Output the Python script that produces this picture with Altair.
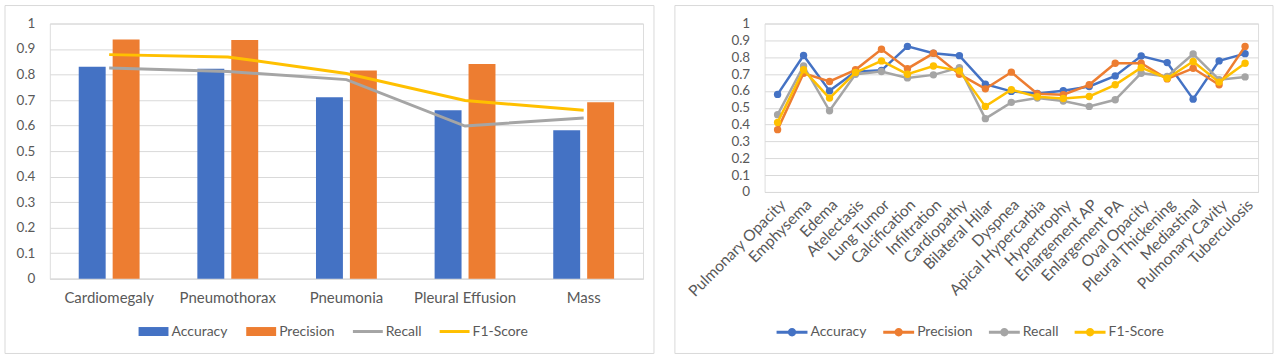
import altair as alt
import pandas as pd

FONT = "Lato"
TXT = "#595959"
GRID = "#D9D9D9"

metrics = ["Accuracy", "Precision", "Recall", "F1-Score"]
colors = ["#4472C4", "#ED7D31", "#A5A5A5", "#FFC000"]
metric_color = dict(zip(metrics, colors))

# ---- left chart data ----
cats_left = ["Cardiomegaly", "Pneumothorax", "Pneumonia", "Pleural Effusion", "Mass"]
acc_left = [0.830, 0.823, 0.711, 0.660, 0.582]
prec_left = [0.937, 0.935, 0.816, 0.841, 0.691]
rec_left = [0.826, 0.812, 0.780, 0.598, 0.630]
f1_left = [0.878, 0.869, 0.804, 0.698, 0.660]

# ---- right chart data ----
cats_right = ["Pulmonary Opacity", "Emphysema", "Edema", "Atelectasis", "Lung Tumor",
              "Calcification", "Infiltration", "Cardiopathy", "Bilateral Hilar", "Dyspnea",
              "Apical Hypercarbia", "Hypertrophy", "Enlargement AP", "Enlargement PA",
              "Oval Opacity", "Pleural Thickening", "Mediastinal", "Pulmonary Cavity",
              "Tuberculosis"]
acc_right = [0.579, 0.810, 0.600, 0.713, 0.722, 0.864, 0.823, 0.809, 0.640, 0.597,
             0.585, 0.601, 0.626, 0.689, 0.807, 0.768, 0.551, 0.778, 0.821]
prec_right = [0.370, 0.705, 0.656, 0.725, 0.847, 0.732, 0.823, 0.699, 0.612, 0.711,
              0.583, 0.577, 0.636, 0.764, 0.764, 0.671, 0.734, 0.636, 0.864]
rec_right = [0.459, 0.748, 0.482, 0.699, 0.715, 0.677, 0.695, 0.738, 0.435, 0.532,
             0.558, 0.540, 0.508, 0.547, 0.705, 0.685, 0.819, 0.666, 0.683]
f1_right = [0.413, 0.725, 0.557, 0.709, 0.778, 0.699, 0.748, 0.719, 0.508, 0.607,
            0.565, 0.555, 0.567, 0.636, 0.738, 0.675, 0.774, 0.652, 0.764]

y_ticks = [0, 0.1, 0.2, 0.3, 0.4, 0.5, 0.6, 0.7, 0.8, 0.9, 1.0]


def long_df(cats, series):
    rows = []
    for m, vals in zip(metrics, series):
        for c, v in zip(cats, vals):
            rows.append({"Disease": c, "Metric": m, "Value": v})
    return pd.DataFrame(rows)


df_left = long_df(cats_left, [acc_left, prec_left, rec_left, f1_left])
df_right = long_df(cats_right, [acc_right, prec_right, rec_right, f1_right])


def frame(x1, x2, y1, y2):
    return alt.Chart(alt.Data(values=[{"f": 1}])).mark_rect(
        fill="white", fillOpacity=0, stroke=GRID, strokeWidth=1
    ).encode(x=alt.value(x1), x2=alt.value(x2), y=alt.value(y1), y2=alt.value(y2))


def legend_layer(df, paths, size, lx, ly, colpad):
    leg = alt.Legend(
        title=None, orient="none", legendX=lx, legendY=ly, direction="horizontal",
        columns=4, symbolSize=size, symbolStrokeWidth=0, symbolOpacity=1,
        labelFont=FONT, labelFontSize=14, labelColor=TXT, labelOffset=3,
        columnPadding=colpad,
    )
    return alt.Chart(df).mark_point(filled=True, size=size, opacity=0).encode(
        color=alt.Color("Metric:N", scale=alt.Scale(domain=metrics, range=colors), legend=leg),
        shape=alt.Shape("Metric:N", scale=alt.Scale(domain=metrics, range=paths), legend=leg),
    )


# ---------------- Left chart ----------------
xl = alt.X("Disease:N", sort=cats_left,
           scale=alt.Scale(paddingInner=0.487, paddingOuter=0.2435),
           axis=alt.Axis(title=None, labelAngle=0, labelFont=FONT, labelFontSize=15,
                         labelColor=TXT, ticks=False, domainColor=GRID, labelPadding=12,
                         grid=False))
yl = alt.Y("Value:Q", scale=alt.Scale(domain=[0, 1]),
           axis=alt.Axis(title=None, values=y_ticks, format=".1~f", labelFont=FONT,
                         labelFontSize=13.5, labelColor=TXT, ticks=False, domain=False,
                         gridColor=GRID, labelPadding=15))

base_l = alt.Chart(df_left)
bars = base_l.transform_filter(
    alt.FieldOneOfPredicate(field="Metric", oneOf=["Accuracy", "Precision"])
).mark_bar().encode(
    x=xl, y=yl,
    xOffset=alt.XOffset("Metric:N", scale=alt.Scale(domain=["Accuracy", "Precision"],
                                                    paddingInner=0.206, paddingOuter=0)),
    fill=alt.Fill("Metric:N", scale=alt.Scale(domain=["Accuracy", "Precision"],
                                              range=colors[:2]), legend=None),
)
line_rec = base_l.transform_filter(alt.datum.Metric == "Recall").mark_line(
    strokeWidth=3, color=metric_color["Recall"]).encode(x=xl, y=yl)
line_f1 = base_l.transform_filter(alt.datum.Metric == "F1-Score").mark_line(
    strokeWidth=3, color=metric_color["F1-Score"]).encode(x=xl, y=yl)

rect_path = "M-1,-0.3H1V0.3H-1Z"
line_path = "M-1,-0.1H1V0.1H-1Z"
left = alt.layer(
    frame(-45, 606, -18, 331),
    bars, line_rec, line_f1,
    legend_layer(df_left, [rect_path, rect_path, line_path, line_path], 900, 89, 294, 18),
).properties(width=595, height=256)

# ---------------- Right chart ----------------
xr = alt.X("Disease:N", sort=cats_right,
           scale=alt.Scale(paddingInner=0, paddingOuter=0),
           axis=alt.Axis(title=None, labelAngle=-45, labelAlign="right", labelBaseline="top",
                         labelFont=FONT, labelFontSize=15.5, labelColor=TXT, ticks=False,
                         domainColor=GRID, labelPadding=5, grid=False))
yr = alt.Y("Value:Q", scale=alt.Scale(domain=[0, 1]),
           axis=alt.Axis(title=None, values=y_ticks, format=".1~f", labelFont=FONT,
                         labelFontSize=13.5, labelColor=TXT, ticks=False, domain=False,
                         gridColor=GRID, labelPadding=15))

base_r = alt.Chart(df_right)
r_layers = []
for m in metrics:
    r_layers.append(
        base_r.transform_filter(alt.datum.Metric == m).mark_line(
            strokeWidth=2.5, color=metric_color[m],
            point=alt.OverlayMarkDef(filled=True, size=55, opacity=1, color=metric_color[m])
        ).encode(x=xr, y=yr)
    )

lc_path = ("M-1,-0.1H1V0.1H-1Z M-0.27,0 A0.27,0.27 0 1,1 0.27,0 "
           "A0.27,0.27 0 1,1 -0.27,0Z")
right = alt.layer(
    frame(-90, 510, -18, 331),
    *r_layers,
    legend_layer(df_right, [lc_path] * 4, 961, 12, 294, 16),
).properties(width=495, height=169)

chart = alt.hconcat(left, right, spacing=19).resolve_scale(
    color="independent", shape="independent"
).properties(
    padding={"left": 4, "top": 4, "right": 4, "bottom": 4}
).configure_view(strokeWidth=0).configure(background="white")

chart.save("out.html", embed_options={"renderer": "svg", "actions": False})
